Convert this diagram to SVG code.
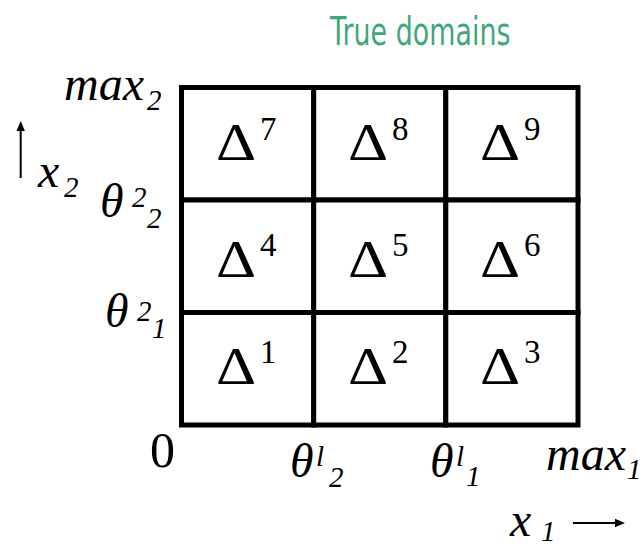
<svg xmlns="http://www.w3.org/2000/svg" width="643" height="546" viewBox="0 0 643 546">
<rect width="643" height="546" fill="#fff"/>
<text font-family="DejaVu Sans, sans-serif" font-size="39" fill="#3fa878" transform="translate(330,45) scale(0.69,1)">True domains</text>

<g id="cell7"><rect fill="#fff" stroke="#000" stroke-width="5" x="181.5" y="87.5" width="132.2" height="112.5"/><text font-family="Times New Roman, serif" font-size="52" transform="translate(216,160) scale(1.2,1)">Δ</text><text font-family="Times New Roman, serif" font-size="33" x="260" y="140">7</text></g>
<g id="cell8"><rect fill="#fff" stroke="#000" stroke-width="5" x="313.7" y="87.5" width="132.1" height="112.5"/><text font-family="Times New Roman, serif" font-size="52" transform="translate(348,160) scale(1.2,1)">Δ</text><text font-family="Times New Roman, serif" font-size="33" x="392" y="140">8</text></g>
<g id="cell9"><rect fill="#fff" stroke="#000" stroke-width="5" x="445.8" y="87.5" width="132.2" height="112.5"/><text font-family="Times New Roman, serif" font-size="52" transform="translate(480,160) scale(1.2,1)">Δ</text><text font-family="Times New Roman, serif" font-size="33" x="524" y="140">9</text></g>

<g id="cell4"><rect fill="#fff" stroke="#000" stroke-width="5" x="181.5" y="200" width="132.2" height="112.5"/><text font-family="Times New Roman, serif" font-size="52" transform="translate(216,277) scale(1.2,1)">Δ</text><text font-family="Times New Roman, serif" font-size="33" x="260" y="256">4</text></g>
<g id="cell5"><rect fill="#fff" stroke="#000" stroke-width="5" x="313.7" y="200" width="132.1" height="112.5"/><text font-family="Times New Roman, serif" font-size="52" transform="translate(348,277) scale(1.2,1)">Δ</text><text font-family="Times New Roman, serif" font-size="33" x="392" y="256">5</text></g>
<g id="cell6"><rect fill="#fff" stroke="#000" stroke-width="5" x="445.8" y="200" width="132.2" height="112.5"/><text font-family="Times New Roman, serif" font-size="52" transform="translate(480,277) scale(1.2,1)">Δ</text><text font-family="Times New Roman, serif" font-size="33" x="524" y="256">6</text></g>

<g id="cell1"><rect fill="#fff" stroke="#000" stroke-width="5" x="181.5" y="312.5" width="132.2" height="112.5"/><text font-family="Times New Roman, serif" font-size="52" transform="translate(216,384) scale(1.2,1)">Δ</text><text font-family="Times New Roman, serif" font-size="33" x="260" y="363">1</text></g>
<g id="cell2"><rect fill="#fff" stroke="#000" stroke-width="5" x="313.7" y="312.5" width="132.1" height="112.5"/><text font-family="Times New Roman, serif" font-size="52" transform="translate(348,384) scale(1.2,1)">Δ</text><text font-family="Times New Roman, serif" font-size="33" x="392" y="363">2</text></g>
<g id="cell3"><rect fill="#fff" stroke="#000" stroke-width="5" x="445.8" y="312.5" width="132.2" height="112.5"/><text font-family="Times New Roman, serif" font-size="52" transform="translate(480,384) scale(1.2,1)">Δ</text><text font-family="Times New Roman, serif" font-size="33" x="524" y="363">3</text></g>

<g id="labels">
<text font-family="Times New Roman, serif" font-style="italic" font-size="48" x="64" y="100">max</text><text font-family="Times New Roman, serif" font-style="italic" font-size="29" x="147" y="110">2</text>
<text font-family="Times New Roman, serif" font-style="italic" font-size="48" x="38" y="187">x</text><text font-family="Times New Roman, serif" font-style="italic" font-size="29" x="64" y="197">2</text>
<text font-family="Times New Roman, serif" font-style="italic" font-size="48" x="100" y="217">θ</text><text font-family="Times New Roman, serif" font-style="italic" font-size="29" x="132" y="207">2</text><text font-family="Times New Roman, serif" font-style="italic" font-size="29" x="147" y="228">2</text>
<text font-family="Times New Roman, serif" font-style="italic" font-size="48" x="105" y="327">θ</text><text font-family="Times New Roman, serif" font-style="italic" font-size="29" x="137" y="321">2</text><text font-family="Times New Roman, serif" font-style="italic" font-size="29" x="152" y="338">1</text>
<text font-family="Times New Roman, serif" font-size="50" x="150" y="467">0</text>
<text font-family="Times New Roman, serif" font-style="italic" font-size="48" x="290" y="477">θ</text><text font-family="Times New Roman, serif" font-style="italic" font-size="29" x="316" y="466">l</text><text font-family="Times New Roman, serif" font-style="italic" font-size="29" x="329" y="487">2</text>
<text font-family="Times New Roman, serif" font-style="italic" font-size="48" x="430" y="477">θ</text><text font-family="Times New Roman, serif" font-style="italic" font-size="29" x="456" y="466">l</text><text font-family="Times New Roman, serif" font-style="italic" font-size="29" x="466" y="486">1</text>
<text font-family="Times New Roman, serif" font-style="italic" font-size="48" x="546" y="470">max</text><text font-family="Times New Roman, serif" font-style="italic" font-size="29" x="627" y="479">1</text>
<text font-family="Times New Roman, serif" font-style="italic" font-size="48" x="510" y="536">x</text><text font-family="Times New Roman, serif" font-style="italic" font-size="29" x="541" y="541">1</text>
</g>

<g id="connectors">
<line stroke="#000" stroke-width="2" x1="20.7" y1="178" x2="20.7" y2="130"/>
<path d="M16.5,131 L20.7,121 L24.9,131 Z" fill="#000"/>
<line stroke="#000" stroke-width="2" x1="573" y1="523" x2="616" y2="523"/>
<path d="M615,518.8 L625,523 L615,527.2 Z" fill="#000"/>
</g>
</svg>
